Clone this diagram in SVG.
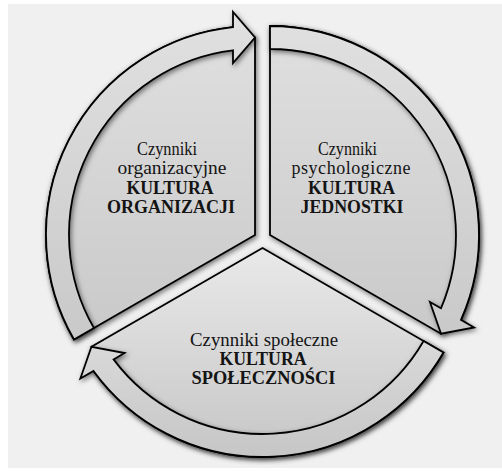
<svg xmlns="http://www.w3.org/2000/svg" width="502" height="473" viewBox="0 0 502 473">
<style>
.t{font-family:"Liberation Serif","Times New Roman",serif;font-size:18px;fill:#141414;text-anchor:middle}
.b{font-weight:bold}
.shape{stroke:#000;stroke-width:1.8;stroke-linejoin:miter}
</style>
<defs>
<linearGradient id="gT" gradientUnits="userSpaceOnUse" x1="0" y1="20" x2="0" y2="340">
<stop offset="0" stop-color="#e0e0e0"/><stop offset="1" stop-color="#c9c9c9"/>
</linearGradient>
<linearGradient id="gB" gradientUnits="userSpaceOnUse" x1="0" y1="248" x2="0" y2="457">
<stop offset="0" stop-color="#e9e9e9"/><stop offset="1" stop-color="#c6c6c6"/>
</linearGradient>
<filter id="sh" x="-15%" y="-15%" width="130%" height="130%">
<feDropShadow dx="1.5" dy="2" stdDeviation="2.5" flood-color="#000" flood-opacity="0.5"/>
</filter>
</defs>
<rect x="0" y="0" width="502" height="473" fill="#ffffff"/>
<rect x="8" y="4" width="494" height="464" fill="#f0f0f0"/>

<g id="node-organizacji">
<path class="shape" filter="url(#sh)" fill="url(#gT)" d="M255,235 L74,339.5 A209,209 0 0 1 233,27.16 L255,37.5 Z"/>
<text class="t" x="167" y="155" textLength="60" lengthAdjust="spacingAndGlyphs">Czynniki</text>
<text class="t" x="172" y="173.5" textLength="109" lengthAdjust="spacingAndGlyphs">organizacyjne</text>
<text class="t b" x="170" y="194" textLength="87" lengthAdjust="spacingAndGlyphs">KULTURA</text>
<text class="t b" x="171" y="212.5" textLength="128" lengthAdjust="spacingAndGlyphs">ORGANIZACJI</text>
</g>

<g id="node-jednostki">
<path class="shape" filter="url(#sh)" fill="url(#gT)" d="M270,235 L270,26 A209,209 0 0 1 460.99,319.87 L441.04,333.75 Z"/>
<text class="t" x="347.5" y="155" textLength="59" lengthAdjust="spacingAndGlyphs">Czynniki</text>
<text class="t" x="351" y="173.5" textLength="119" lengthAdjust="spacing">psychologiczne</text>
<text class="t b" x="351.5" y="194" textLength="87" lengthAdjust="spacingAndGlyphs">KULTURA</text>
<text class="t b" x="352" y="212.5" textLength="103" lengthAdjust="spacingAndGlyphs">JEDNOSTKI</text>
</g>

<g id="node-spolecznosci">
<path class="shape" filter="url(#sh)" fill="url(#gB)" d="M262.5,248 L443.5,352.5 A209,209 0 0 1 93.51,370.97 L91.46,346.75 Z"/>
<text class="t" x="264" y="346" textLength="148" lengthAdjust="spacingAndGlyphs">Czynniki społeczne</text>
<text class="t b" x="263" y="365" textLength="87" lengthAdjust="spacingAndGlyphs">KULTURA</text>
<text class="t b" x="263.5" y="383.5" textLength="144" lengthAdjust="spacingAndGlyphs">SPOŁECZNOŚCI</text>
</g>

<g id="connectors">
<path class="shape" filter="url(#sh)" fill="url(#gT)" d="M74,339.5 A209,209 0 0 1 233,27.16 L233,12 L255,37.5 L233,63 L233,50.31 A186,186 0 0 0 93.92,328 Z"/>
<path class="shape" filter="url(#sh)" fill="url(#gT)" d="M270,26 A209,209 0 0 1 460.99,319.87 L474.12,327.45 L441.04,333.75 L429.95,301.95 L440.94,308.3 A186,186 0 0 0 270,49 Z"/>
<path class="shape" filter="url(#sh)" fill="url(#gB)" d="M443.5,352.5 A209,209 0 0 1 93.51,370.97 L80.38,378.55 L91.46,346.75 L124.55,353.05 L113.56,359.4 A186,186 0 0 0 423.58,341 Z"/>
</g>
</svg>
